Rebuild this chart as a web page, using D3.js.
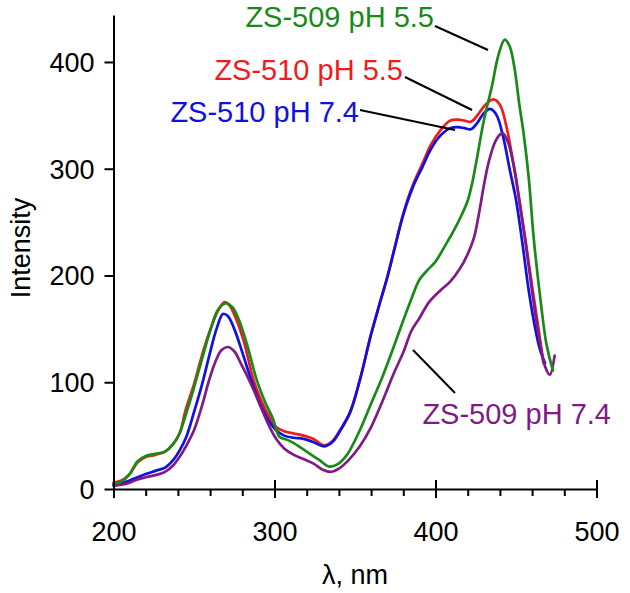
<!DOCTYPE html>
<html>
<head>
<meta charset="utf-8">
<script src="https://cdn.jsdelivr.net/npm/d3@7"></script>
<style>
  html, body { margin: 0; padding: 0; background: #fff; }
  svg { display: block; font-family: "Liberation Sans", Arial, sans-serif; }
</style>
</head>
<body>
<svg id="chart" width="630" height="593"></svg>
<script>
// ---- Data ----
const xTicks = [200, 300, 400, 500];
const xMinorTicks = [220, 240, 260, 280, 320, 340, 360, 380, 420, 440, 460, 480];
const yTicks = [0, 100, 200, 300, 400];

const seriesNames = ["ZS-510 pH 5.5", "ZS-510 pH 7.4", "ZS-509 pH 5.5", "ZS-509 pH 7.4"];
const seriesColors = ["#ee1c1c", "#1010e0", "#188a18", "#7f1a86"];

const redWl   = [200,205,210,215,220,226,232,237,241,245,250,254,258,262,266,269,272,276,281,287,292,297,301,306,312,318,324,331,336,341,347,353,360,365,370,375,380,386,392,397,403,409,414,418,422,426,431,436,440,444,448,452,456,460,464,467];
const redInt  = [6,8,14,25,30,32,35,42,52,75,98,120,140,157,170,175,172,160,138,102,82,67,58,54,52,50,47,41,45,56,72,102,145,172,198,228,258,285,305,322,336,345,346,345,344,350,360,365,360,340,308,271,232,190,150,118];

const blueWl  = [200,205,210,215,220,226,232,237,241,245,250,255,260,264,268,271,275,280,286,291,296,301,306,312,318,324,331,336,341,347,353,360,365,370,375,380,386,392,397,403,409,414,418,422,426,430,434,438,442,446,450,454,458,462,465,468];
const blueInt = [4,5,8,11,14,17,20,27,36,48,72,98,128,150,164,162,150,128,100,80,65,55,50,48,47,44,40,44,55,72,102,145,172,198,228,257,283,302,318,331,338,339,338,337,343,352,356,350,330,300,271,230,185,150,130,118];

const greenWl  = [200,205,210,215,220,226,232,237,241,245,250,255,260,265,270,274,278,283,289,294,299,303,308,312,317,322,328,334,339,345,353,360,367,374,380,385,390,395,400,406,411,416,420,423,426,430,435,439,443,446,449,452,455,458,461,465,469,473];
const greenInt = [5,7,14,26,31,33,35,42,52,70,95,122,148,168,174,170,158,135,102,82,66,49,46,43,38,33,27,21,23,32,55,80,105,133,158,178,196,205,213,228,241,256,270,288,312,345,377,406,421,415,395,361,330,290,235,180,135,111];

const purpleWl  = [200,205,210,215,220,226,232,237,241,245,250,255,259,263,267,271,275,279,283,287,292,297,301,306,312,318,324,330,335,340,346,353,360,367,374,380,385,390,396,403,409,415,420,424,427,430,433,437,440,442,445,449,452,456,460,464,468,471,474];
const purpleInt = [3,4,6,9,11,13,16,22,30,40,55,78,100,118,130,133,129,118,106,93,75,58,47,38,32,28,24,18,16,19,27,40,58,82,108,128,148,160,175,186,194,206,220,236,258,284,306,325,332,333,325,300,271,230,185,145,115,107,125];

const series = [
  { name: seriesNames[0], color: seriesColors[0], wl: redWl,    val: redInt },
  { name: seriesNames[1], color: seriesColors[1], wl: blueWl,   val: blueInt },
  { name: seriesNames[3], color: seriesColors[3], wl: purpleWl, val: purpleInt },
  { name: seriesNames[2], color: seriesColors[2], wl: greenWl,  val: greenInt }
];

// ---- Layout ----
const svg = d3.select("#chart");
const x = d3.scaleLinear().domain([200, 500]).range([113.5, 596.5]);
const y = d3.scaleLinear().domain([0, 444]).range([489, 15]);

const FS = 27;
const LFS = 29;

// Curves
const line = d3.line()
  .x(d => x(d[0]))
  .y(d => y(d[1]))
  .curve(d3.curveCatmullRom.alpha(0.5));

series.forEach(s => {
  const pts = s.wl.map((w, i) => [w, s.val[i]]);
  svg.append("path")
    .attr("d", line(pts))
    .attr("fill", "none")
    .attr("stroke", s.color)
    .attr("stroke-width", 2.7)
    .attr("stroke-linejoin", "round")
    .attr("stroke-linecap", "round");
});

// X axis (major + minor)
const gx = svg.append("g").attr("transform", `translate(0,${y(0)})`);
gx.call(d3.axisBottom(x).tickValues(xTicks).tickSize(9).tickSizeOuter(0).tickFormat(d3.format("d")));
gx.selectAll(".tick line").attr("y1", -9).attr("stroke-width", 2);
gx.selectAll(".tick text").attr("y", 52).attr("dy", 0)
  .attr("font-size", FS).attr("font-family", "Liberation Sans, Arial, sans-serif").attr("fill", "#000");
gx.select(".domain").attr("stroke-width", 2);

const gxm = svg.append("g").attr("transform", `translate(0,${y(0)})`);
gxm.call(d3.axisBottom(x).tickValues(xMinorTicks).tickSize(7).tickSizeOuter(0).tickFormat(""));
gxm.select(".domain").remove();
gxm.selectAll(".tick line").attr("stroke-width", 2);

// Y axis
const gy = svg.append("g").attr("transform", `translate(${x(200)},0)`);
gy.call(d3.axisLeft(y).tickValues(yTicks).tickSize(9).tickSizeOuter(0).tickFormat(d3.format("d")));
gy.selectAll(".tick line").attr("stroke-width", 2);
gy.selectAll(".tick text").attr("x", -19).attr("dy", "0.35em")
  .attr("font-size", FS).attr("font-family", "Liberation Sans, Arial, sans-serif").attr("fill", "#000");
gy.select(".domain").attr("stroke-width", 2);

// Axis titles
svg.append("text")
  .attr("transform", "translate(30,248) rotate(-90)")
  .attr("text-anchor", "middle")
  .attr("font-size", FS)
  .text("Intensity");

svg.append("text")
  .attr("x", 355).attr("y", 584)
  .attr("text-anchor", "middle")
  .attr("font-size", FS)
  .text("λ, nm");

// Series labels with leader lines
const labels = [
  { text: seriesNames[2], color: seriesColors[2], tx: 434, ty: 27, l: [435, 26, 488, 50] },
  { text: seriesNames[0], color: seriesColors[0], tx: 403, ty: 80, l: [405, 77, 472, 110] },
  { text: seriesNames[1], color: seriesColors[1], tx: 359, ty: 122, l: [360, 110, 455, 130] },
  { text: seriesNames[3], color: seriesColors[3], tx: 611, ty: 424, l: [413, 350, 455, 393] }
];
labels.forEach(lb => {
  svg.append("line")
    .attr("x1", lb.l[0]).attr("y1", lb.l[1]).attr("x2", lb.l[2]).attr("y2", lb.l[3])
    .attr("stroke", "#000").attr("stroke-width", 2);
  svg.append("text")
    .attr("x", lb.tx).attr("y", lb.ty)
    .attr("text-anchor", "end")
    .attr("font-size", LFS)
    .attr("fill", lb.color)
    .text(lb.text);
});
</script>
</body>
</html>
